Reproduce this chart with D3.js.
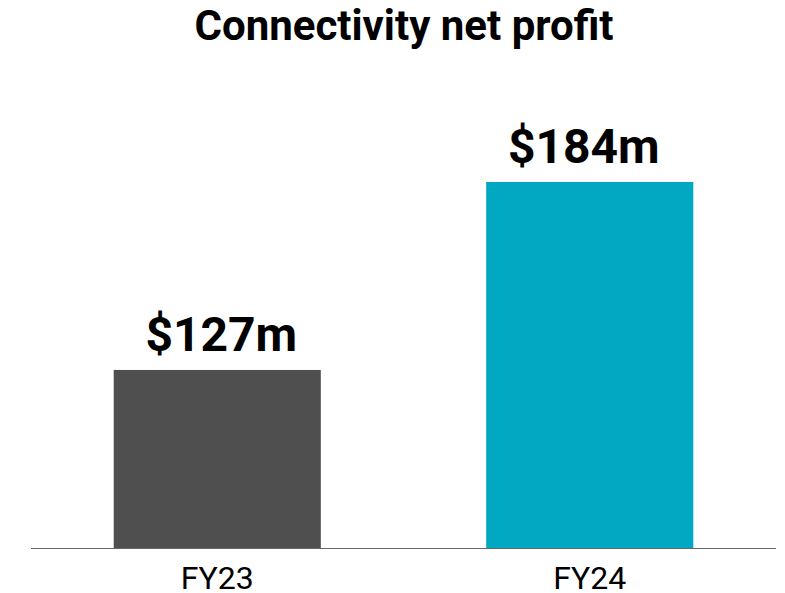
<!DOCTYPE html>
<html><head><meta charset="utf-8">
<script src="https://cdn.jsdelivr.net/npm/d3@7"></script>
<style>html,body{margin:0;padding:0;background:#fff;}</style>
</head><body>
<svg id="chart" width="785" height="593"></svg>
<script>
const categories = ["FY23", "FY24"];
const values = [127, 184];
const valueLabels = ["$127m", "$184m"];
const colors = ["#4f4f4f", "#00a8c1"];
const title = "Connectivity net profit";

const svg = d3.select("#chart");
const baseY = 548;
const x = d3.scaleBand().domain(categories).range([31, 776]).paddingInner(0.444).paddingOuter(0.222);
const y = d3.scaleLinear().domain([73, 184]).range([baseY, 182]);
const labelNudge = [4, -6];

svg.append("text").attr("x", 404).attr("y", 40).attr("text-anchor", "middle")
  .attr("font-family", "Roboto").attr("font-weight", "bold").attr("font-size", 42)
  .attr("fill", "#000").text(title);

const g = svg.append("g");
g.selectAll("rect.bar").data(values).join("rect").attr("class", "bar")
  .attr("x", (d, i) => x(categories[i])).attr("width", x.bandwidth())
  .attr("y", d => y(d)).attr("height", d => baseY - y(d))
  .attr("fill", (d, i) => colors[i]);

g.selectAll("text.val").data(values).join("text").attr("class", "val")
  .attr("x", (d, i) => x(categories[i]) + x.bandwidth() / 2 + labelNudge[i])
  .attr("y", d => y(d) - 19).attr("text-anchor", "middle")
  .attr("font-family", "Roboto").attr("font-weight", "bold").attr("font-size", 48)
  .attr("fill", "#000").text((d, i) => valueLabels[i]);

const axis = d3.axisBottom(x).tickSize(0).tickPadding(0);
const ax = svg.append("g").attr("transform", `translate(0,${baseY})`).call(axis);
ax.select(".domain").attr("stroke", "#666").attr("stroke-width", 1.2).attr("d", "M31,0.5H776");
ax.selectAll(".tick text").attr("dy", null).attr("y", 41)
  .attr("font-family", "Roboto").attr("font-size", 32).attr("fill", "#000");
</script>
</body></html>
